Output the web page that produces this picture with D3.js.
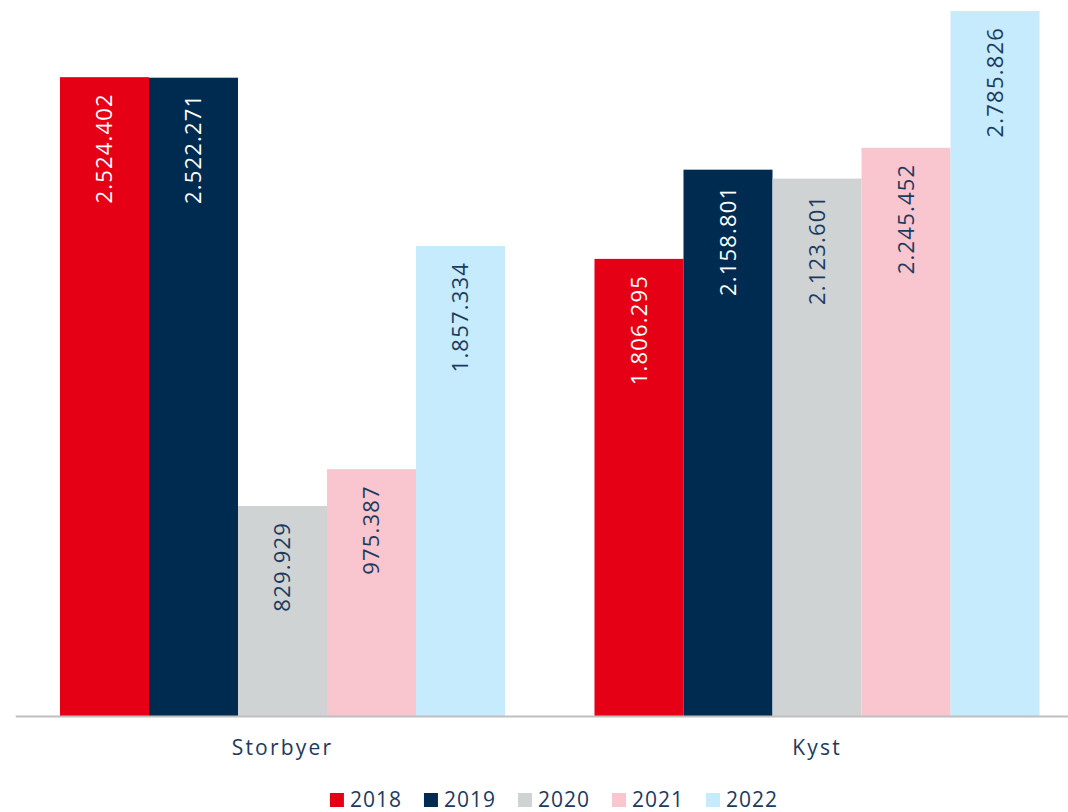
<!DOCTYPE html>
<html>
<head>
<meta charset="utf-8">
<script src="https://cdn.jsdelivr.net/npm/d3@7"></script>
<style>
  body { margin: 0; background: #fff; }
  svg { display: block; font-family: "Open Sans", "Noto Sans", sans-serif; }
</style>
</head>
<body>
<svg id="chart"></svg>
<script>
// data
const categories = ['Storbyer', 'Kyst'];
const years = ['2018', '2019', '2020', '2021', '2022'];
const values2018 = [2524402, 1806295];
const values2019 = [2522271, 2158801];
const values2020 = [829929, 2123601];
const values2021 = [975387, 2245452];
const values2022 = [1857334, 2785826];

const series = [values2018, values2019, values2020, values2021, values2022];
const colors = ['#e50016', '#002b51', '#d0d3d4', '#f9c5ce', '#c5ebfc'];
const labelColors = ['#ffffff', '#ffffff', '#1c3a5e', '#1c3a5e', '#1c3a5e'];
const textColor = '#1c3a5e';

const width = 1068;
const height = 812;
const baseline = 716;

const svg = d3.select('#chart')
  .attr('width', width)
  .attr('height', height);

// scales
const x0 = d3.scaleBand()
  .domain(categories)
  .range([15.25, 1084.25])
  .paddingInner(0.1674)
  .paddingOuter(0.0837);

const x1 = d3.scaleBand()
  .domain(years)
  .range([0, x0.bandwidth()]);

const y = d3.scaleLinear()
  .domain([0, 2829300])
  .range([baseline, 0]);

const fmt = d3.formatLocale({ decimal: ',', thousands: '.', grouping: [3], currency: ['', ''] }).format(',d');

const rows = [];
categories.forEach((c, i) => {
  years.forEach((yr, j) => {
    rows.push({ cat: c, year: yr, idx: j, value: series[j][i] });
  });
});

// bars
svg.append('g')
  .selectAll('rect')
  .data(rows)
  .join('rect')
  .attr('x', d => x0(d.cat) + x1(d.year))
  .attr('y', d => y(d.value))
  .attr('width', x1.bandwidth())
  .attr('height', d => baseline - y(d.value))
  .attr('fill', d => colors[d.idx]);

// value labels
svg.append('g')
  .selectAll('text')
  .data(rows)
  .join('text')
  .attr('transform', d => `translate(${x0(d.cat) + x1(d.year) + x1.bandwidth() / 2},${y(d.value) + 16}) rotate(-90)`)
  .attr('text-anchor', 'end')
  .attr('dy', '0.35em')
  .style('font-size', '22px')
  .style('letter-spacing', '1.2px')
  .style('fill', d => labelColors[d.idx])
  .text(d => fmt(d.value));

// x-axis
const xAxis = svg.append('g')
  .attr('transform', `translate(0,${baseline})`)
  .call(d3.axisBottom(x0).tickSize(0).tickSizeOuter(0).tickPadding(24));
xAxis.select('.domain').attr('stroke', '#bfbfbf').attr('stroke-width', 2);
xAxis.selectAll('text')
  .style('font-size', '21px')
  .style('letter-spacing', '2.2px')
  .style('font-family', '"Open Sans", "Noto Sans", sans-serif')
  .style('fill', textColor);

// legend
const legend = svg.append('g').attr('transform', 'translate(0,800)');
let cursor = 0;
const items = legend.selectAll('g')
  .data(years)
  .join('g');
items.append('rect')
  .attr('width', 14)
  .attr('height', 14)
  .attr('y', -7)
  .attr('fill', (d, i) => colors[i]);
items.append('text')
  .attr('x', 20)
  .attr('dy', '0.35em')
  .style('font-size', '21px')
  .style('letter-spacing', '1px')
  .style('fill', textColor)
  .text(d => d);
items.each(function () {
  const g = d3.select(this);
  const w = g.select('text').node().getComputedTextLength();
  g.attr('transform', `translate(${cursor},0)`);
  cursor += 20 + w + 22;
});
const total = cursor - 22;
legend.attr('transform', `translate(${554 - total / 2},800)`);
</script>
</body>
</html>
